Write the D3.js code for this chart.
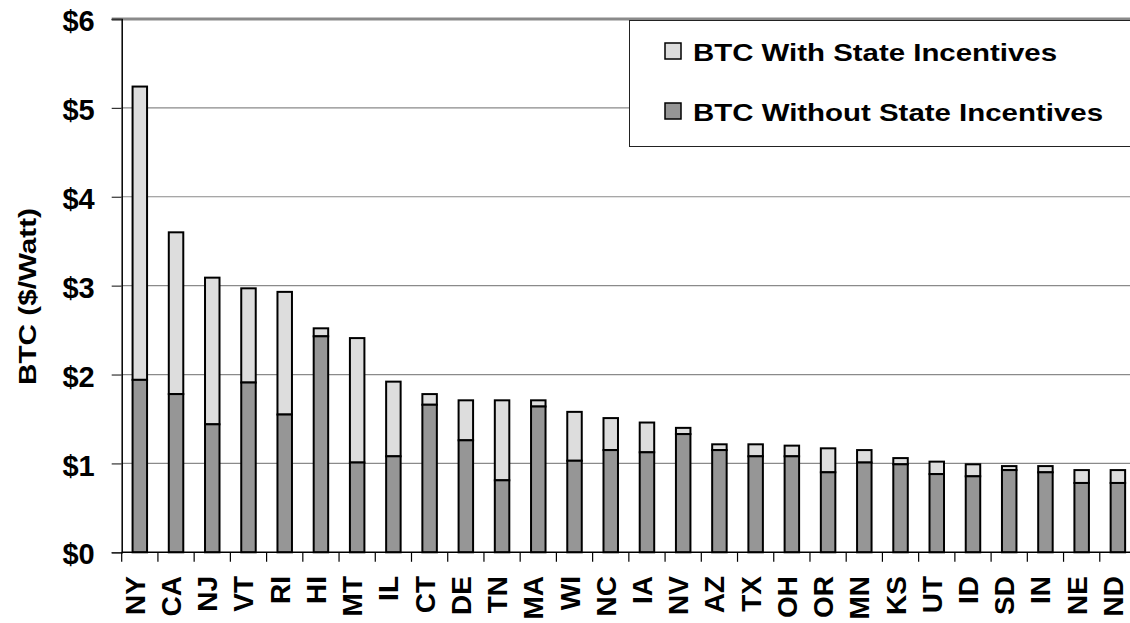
<!DOCTYPE html>
<html>
<head>
<meta charset="utf-8">
<script src="https://cdn.jsdelivr.net/npm/d3@7/dist/d3.min.js"></script>
<style>
  html, body { margin: 0; padding: 0; background: #fff; overflow: hidden; }
  svg { display: block; font-family: "Liberation Sans", Arial, sans-serif; font-weight: bold; }
</style>
</head>
<body>
<svg id="chart" width="1130" height="623"></svg>
<script>
const states = ["NY","CA","NJ","VT","RI","HI","MT","IL","CT","DE","TN","MA","WI","NC","IA","NV","AZ","TX","OH","OR","MN","KS","UT","ID","SD","IN","NE","ND"];
const btcWithIncentives = [5.24,3.60,3.09,2.97,2.93,2.52,2.41,1.92,1.78,1.71,1.71,1.71,1.58,1.51,1.46,1.40,1.215,1.215,1.20,1.17,1.15,1.06,1.02,0.99,0.97,0.97,0.925,0.925];
const btcWithoutIncentives = [1.94,1.78,1.44,1.91,1.55,2.43,1.01,1.08,1.66,1.26,0.81,1.64,1.03,1.15,1.125,1.33,1.15,1.08,1.08,0.90,1.01,0.99,0.88,0.855,0.925,0.90,0.78,0.78];
const yTickValues = [0,1,2,3,4,5,6];
const seriesNames = ["BTC With State Incentives","BTC Without State Incentives"];
const seriesColors = ["#dddddd","#969696"];
const yTitle = "BTC ($/Watt)";

const svg = d3.select("#chart");
const plotLeft = 121.7, plotRight = 1136, plotTop = 19, plotBottom = 552.3;

const x = d3.scaleBand().domain(states).range([plotLeft, plotRight]).paddingInner(0.6).paddingOuter(0.3);
const y = d3.scaleLinear().domain([0, 6]).range([plotBottom, plotTop]);
const step = x.step();

// gridlines
svg.append("g").selectAll("line").data(yTickValues.filter(v => v > 0 && v < 6)).join("line")
  .attr("x1", plotLeft).attr("x2", 1130).attr("y1", d => y(d)).attr("y2", d => y(d))
  .attr("stroke", "#8a8a8a").attr("stroke-width", 1.2);
// top border line
svg.append("line").attr("x1", plotLeft - 10).attr("x2", 1130).attr("y1", y(6)).attr("y2", y(6))
  .attr("stroke", "#8a8a8a").attr("stroke-width", 3);

// bars
const data = states.map((s, i) => ({ s, w: btcWithIncentives[i], wo: btcWithoutIncentives[i] }));
const bars = svg.append("g");
bars.selectAll("rect.light").data(data).join("rect").attr("class", "light")
  .attr("x", d => x(d.s)).attr("width", x.bandwidth())
  .attr("y", d => y(d.w)).attr("height", d => y(d.wo) - y(d.w))
  .attr("fill", seriesColors[0]).attr("stroke", "#000").attr("stroke-width", 2);
bars.selectAll("rect.dark").data(data).join("rect").attr("class", "dark")
  .attr("x", d => x(d.s)).attr("width", x.bandwidth())
  .attr("y", d => y(d.wo)).attr("height", d => y(0) - y(d.wo))
  .attr("fill", seriesColors[1]).attr("stroke", "#000").attr("stroke-width", 2);

// y axis
const yAxis = d3.axisLeft(y).tickValues(yTickValues).tickFormat(d => "$" + d).tickSize(10).tickPadding(17);
const ya = svg.append("g").attr("transform", `translate(${plotLeft},0)`).call(yAxis);
ya.select(".domain").attr("stroke", "#000").attr("stroke-width", 1.5);
ya.selectAll(".tick line").attr("stroke", "#333").attr("stroke-width", 1.2);
ya.selectAll(".tick text").attr("font-size", 29).attr("fill", "#000").attr("font-family", "Liberation Sans, Arial, sans-serif").attr("font-weight", "bold").attr("dy", "0.4em");

// x axis
svg.append("line").attr("x1", plotLeft).attr("x2", 1130).attr("y1", plotBottom).attr("y2", plotBottom).attr("stroke", "#000").attr("stroke-width", 1.5);
svg.append("g").selectAll("line").data(d3.range(states.length + 1)).join("line")
  .attr("x1", i => plotLeft + i * step).attr("x2", i => plotLeft + i * step)
  .attr("y1", plotBottom).attr("y2", plotBottom + 9.5).attr("stroke", "#000").attr("stroke-width", 1.2);
svg.append("g").selectAll("text").data(states).join("text")
  .attr("transform", d => `translate(${x(d) + x.bandwidth() / 2 + 5},576) rotate(-90)`)
  .attr("text-anchor", "end").attr("font-size", 28).attr("fill", "#000").text(d => d);

// y title
svg.append("text").attr("transform", "translate(36,296.5) rotate(-90)")
  .attr("text-anchor", "middle").attr("font-size", 24.5)
  .attr("textLength", 177).attr("lengthAdjust", "spacingAndGlyphs").text(yTitle);

// legend
const lg = svg.append("g");
lg.append("rect").attr("x", 629.5).attr("y", 20.5).attr("width", 520).attr("height", 126)
  .attr("fill", "#fff").attr("stroke", "#222").attr("stroke-width", 1);
const legendLens = [364, 410];
seriesNames.forEach((name, i) => {
  const yy = 43 + i * 60;
  lg.append("rect").attr("x", 665).attr("y", yy).attr("width", 16).attr("height", 16)
    .attr("fill", seriesColors[i]).attr("stroke", "#000").attr("stroke-width", 1.5);
  lg.append("text").attr("x", 693).attr("y", yy + 18).attr("font-size", 24.5)
    .attr("textLength", legendLens[i]).attr("lengthAdjust", "spacingAndGlyphs").text(name);
});
</script>
</body>
</html>
